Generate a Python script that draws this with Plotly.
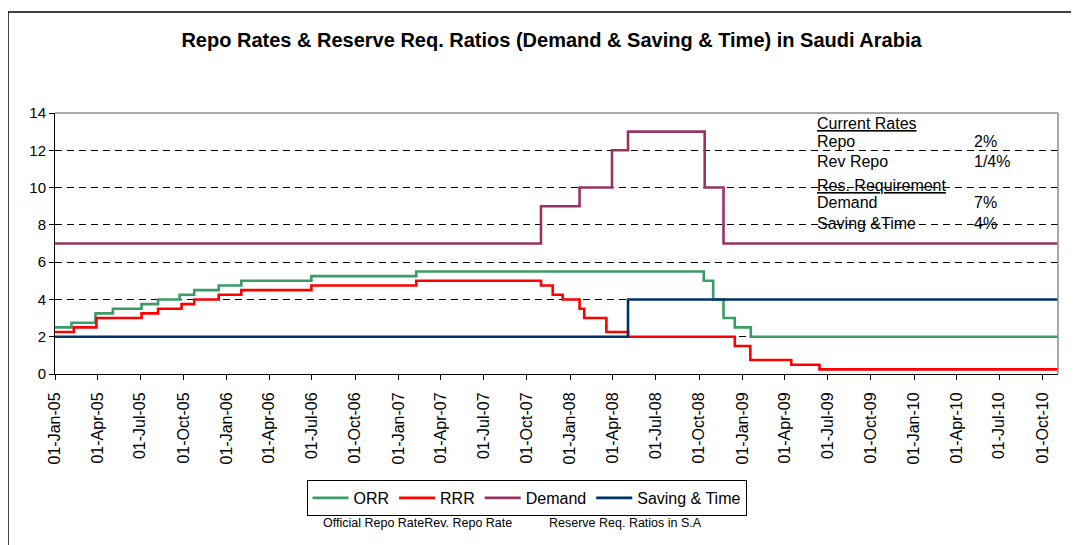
import plotly.graph_objects as go

# ---- data ----
orr_dates = ["2005-01-01", "2005-02-05", "2005-03-28", "2005-05-04", "2005-07-04", "2005-08-08",
             "2005-09-23", "2005-10-24", "2005-12-15", "2006-02-01", "2006-06-30", "2007-02-08",
             "2008-10-11", "2008-10-31", "2008-11-22", "2008-12-16", "2009-01-19", "2010-11-02"]
orr = [2.5, 2.75, 3.25, 3.5, 3.75, 4.0, 4.25, 4.5, 4.75, 5.0, 5.25, 5.5,
       5.0, 4.0, 3.0, 2.5, 2.0, 2.0]

rrr_dates = ["2005-01-01", "2005-02-10", "2005-03-30", "2005-07-04", "2005-08-08", "2005-09-27",
             "2005-10-24", "2005-12-15", "2006-02-01", "2006-06-30", "2007-02-08", "2007-10-31",
             "2007-11-25", "2007-12-16", "2008-01-21", "2008-01-31", "2008-03-18", "2008-05-03",
             "2008-12-16", "2009-01-18", "2009-04-15", "2009-06-14", "2010-11-02"]
rrr = [2.25, 2.5, 3.0, 3.25, 3.5, 3.75, 4.0, 4.25, 4.5, 4.75, 5.0, 4.75,
       4.25, 4.0, 3.5, 3.0, 2.25, 2.0, 1.5, 0.75, 0.5, 0.25, 0.25]

demand_dates = ["2005-01-01", "2007-10-31", "2008-01-21", "2008-03-30", "2008-05-03",
                "2008-10-13", "2008-11-22", "2010-11-02"]
demand = [7, 9, 10, 12, 13, 10, 7, 7]

saving_dates = ["2005-01-01", "2008-05-03", "2010-11-02"]
saving = [2, 4, 4]

tick_dates = ["2005-01-01", "2005-04-01", "2005-07-01", "2005-10-01", "2006-01-01", "2006-04-01",
              "2006-07-01", "2006-10-01", "2007-01-01", "2007-04-01", "2007-07-01", "2007-10-01",
              "2008-01-01", "2008-04-01", "2008-07-01", "2008-10-01", "2009-01-01", "2009-04-01",
              "2009-07-01", "2009-10-01", "2010-01-01", "2010-04-01", "2010-07-01", "2010-10-01"]
tick_labels = ["01-Jan-05", "01-Apr-05", "01-Jul-05", "01-Oct-05", "01-Jan-06", "01-Apr-06",
               "01-Jul-06", "01-Oct-06", "01-Jan-07", "01-Apr-07", "01-Jul-07", "01-Oct-07",
               "01-Jan-08", "01-Apr-08", "01-Jul-08", "01-Oct-08", "01-Jan-09", "01-Apr-09",
               "01-Jul-09", "01-Oct-09", "01-Jan-10", "01-Apr-10", "01-Jul-10", "01-Oct-10"]

title_text = "Repo Rates & Reserve Req. Ratios (Demand & Saving & Time) in Saudi Arabia"
box_labels = ["<u>Current Rates</u>", "Repo", "Rev Repo", "<u>Res. Requirement</u>", "Demand", "Saving &Time"]
box_values = ["", "2%", "1/4%", "", "7%", "4%"]

FONT = "Liberation Sans, Arial, sans-serif"
OFF = 8                      # page body margin in the browser
PAGE_W, PAGE_H = 1079, 545
W, H = PAGE_W - OFF, PAGE_H - OFF
L, R, T, B = 55, 1058, 113, 374  # plot area, page pixels


def px(x):
    return (x - L) / (R - L)


def py(y):
    return (B - y) / (B - T)


fig = go.Figure()
series = [
    ("ORR", orr_dates, orr, "#3a9d66"),
    ("RRR", rrr_dates, rrr, "#ff0000"),
    ("Demand", demand_dates, demand, "#993366"),
    ("Saving & Time", saving_dates, saving, "#003366"),
]
for name, xs, ys, col in series:
    fig.add_trace(go.Scatter(x=xs, y=ys, name=name, mode="lines",
                             line=dict(color=col, width=2.6, shape="hv")))

fig.update_layout(
    width=W, height=H,
    margin=dict(l=L - OFF, r=PAGE_W - R, t=T - OFF, b=PAGE_H - B),
    paper_bgcolor="white", plot_bgcolor="white",
    font=dict(family=FONT, color="black"),
    title=dict(text="<b>" + title_text + "</b>", x=(551.5 - OFF) / W, xref="container",
               xanchor="center", y=1 - (40 - OFF) / H, yref="container", yanchor="middle",
               font=dict(size=20, family=FONT, color="black")),
    showlegend=True,
    legend=dict(orientation="h", x=px(526.5), xanchor="center", y=py(480), yanchor="top",
                bordercolor="black", borderwidth=1, bgcolor="white",
                font=dict(size=16, family=FONT), itemwidth=36, tracegroupgap=0),
)

fig.update_xaxes(
    type="date", range=["2005-01-01", "2010-11-03"],
    tickvals=tick_dates, ticktext=tick_labels, tickangle=-90,
    ticks="outside", ticklen=5, tickcolor="black", tickwidth=1,
    ticklabelstandoff=6,
    showline=True, linecolor="black", linewidth=1,
    showgrid=False, zeroline=False,
    tickfont=dict(size=16, family=FONT, color="black"),
)
fig.update_yaxes(
    range=[0, 14], tickvals=[0, 2, 4, 6, 8, 10, 12, 14],
    ticks="outside", ticklen=5, tickcolor="black", tickwidth=1,
    showline=True, linecolor="black", linewidth=1,
    showgrid=True, gridcolor="black", gridwidth=1, griddash="7px,5px",
    zeroline=False,
    tickfont=dict(size=15, family=FONT, color="black"),
)

shapes = [
    # plot-area border (top and right, grey)
    dict(type="line", xref="paper", yref="paper", x0=0, x1=1, y0=1, y1=1,
         line=dict(color="#8c8c8c", width=1.5)),
    dict(type="line", xref="paper", yref="paper", x0=1, x1=1, y0=0, y1=1,
         line=dict(color="#8c8c8c", width=1.5)),
    # outer chart frame (top and left visible)
    dict(type="line", xref="paper", yref="paper", x0=px(8), x1=px(1079), y0=py(12), y1=py(12),
         line=dict(color="black", width=1.5)),
    dict(type="line", xref="paper", yref="paper", x0=px(8), x1=px(8), y0=py(12), y1=py(545),
         line=dict(color="black", width=1.5)),
]
fig.update_layout(shapes=shapes)

annotations = []
label_y = [123, 141, 161, 185, 202, 223]
for lab, val, yy in zip(box_labels, box_values, label_y):
    annotations.append(dict(text=lab, xref="paper", yref="paper", x=px(815), y=py(yy),
                            xanchor="left", yanchor="middle", showarrow=False,
                            font=dict(size=16, family=FONT, color="black")))
    if val:
        annotations.append(dict(text=val, xref="paper", yref="paper", x=px(972), y=py(yy),
                                xanchor="left", yanchor="middle", showarrow=False,
                                font=dict(size=16, family=FONT, color="black")))
annotations.append(dict(text="Official Repo RateRev. Repo Rate", xref="paper", yref="paper",
                        x=px(321), y=py(523), xanchor="left", yanchor="middle", showarrow=False,
                        font=dict(size=12.5, family=FONT, color="black")))
annotations.append(dict(text="Reserve Req. Ratios in S.A", xref="paper", yref="paper",
                        x=px(547), y=py(523), xanchor="left", yanchor="middle", showarrow=False,
                        font=dict(size=12.5, family=FONT, color="black")))
fig.update_layout(annotations=annotations)

fig.write_html("out.html")
